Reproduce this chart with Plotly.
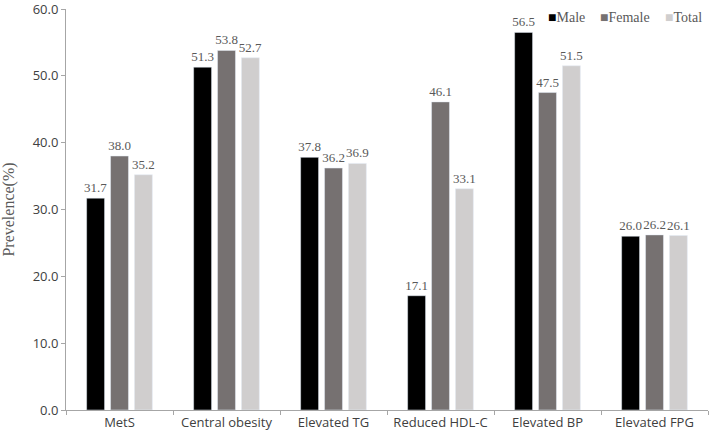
import plotly.graph_objects as go

categories = ["MetS", "Central obesity", "Elevated TG", "Reduced HDL-C", "Elevated BP", "Elevated FPG"]
male = [31.7, 51.3, 37.8, 17.1, 56.5, 26.0]
female = [38.0, 53.8, 36.2, 46.1, 47.5, 26.2]
total = [35.2, 52.7, 36.9, 33.1, 51.5, 26.1]
series_names = ["Male", "Female", "Total"]
colors = ["#000000", "#767171", "#d0cece"]

fig = go.Figure()
for name, vals, col in zip(series_names, [male, female, total], colors):
    fig.add_trace(go.Bar(
        x=categories, y=vals, name=name, marker_color=col,
        text=[f"{v:.1f}" for v in vals], textposition="outside",
        constraintext="none",
        textfont=dict(family="Liberation Serif", size=13, color="#595959"),
        cliponaxis=False,
    ))

# legend drawn as text entries (top right)
legend_x = [0.748, 0.829, 0.930]
for name, col, lx in zip(series_names, colors, legend_x):
    fig.add_annotation(
        xref="paper", yref="paper", x=lx, y=0.98, xanchor="left", yanchor="middle",
        showarrow=False,
        text=f"<span style='color:{col}'>■</span>{name}",
        font=dict(family="Liberation Serif", size=14, color="#595959"),
    )

fig.update_layout(
    width=709, height=435,
    margin=dict(l=66, r=1, t=9, b=25),
    paper_bgcolor="white", plot_bgcolor="white",
    barmode="group", bargap=0.33, bargroupgap=0.25,
    showlegend=False,
    yaxis=dict(range=[0, 60.0001], tickvals=[0, 10, 20, 30, 40, 50, 60], tickformat=".1f",
               showgrid=False, showline=True, linecolor="#a6a6a6", linewidth=1,
               ticks="outside", ticklen=4, tickcolor="#a6a6a6", automargin=False,
               ticklabeloverflow="allow",
               tickfont=dict(family="Open Sans", size=13, color="#404040"),
               title=dict(text="Prevelence(%)", font=dict(family="Liberation Serif", size=16, color="#595959"), standoff=14),
               zeroline=False),
    xaxis=dict(showgrid=False, showline=True, linecolor="#a6a6a6", linewidth=1,
               ticks="outside", ticklen=4, tickcolor="#a6a6a6", tickson="boundaries",
               automargin=False, ticklabeloverflow="allow",
               tickfont=dict(family="Open Sans", size=13, color="#404040")),
)
fig.write_html("out.html", config={"displayModeBar": False},
               post_script="document.body.style.margin='0';document.body.style.padding='0';")
